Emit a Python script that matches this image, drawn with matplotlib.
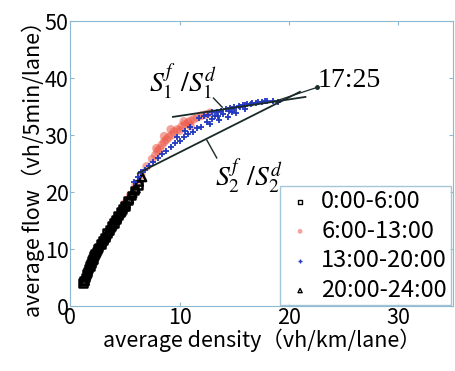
import matplotlib
matplotlib.use("Agg")
import matplotlib.pyplot as plt

plt.rcParams['font.family'] = ['Noto Sans CJK JP', 'DejaVu Sans']
plt.rcParams['mathtext.fontset'] = 'stix'

# density (vh/km/lane), flow (vh/5min/lane)
night_x = [1.2, 1.3, 1.4, 1.5, 1.6, 1.7, 1.8, 1.9, 2.0, 2.1, 2.2, 2.3, 2.4, 2.5, 2.6, 2.8, 3.0,
           3.2, 3.4, 3.6, 3.8, 4.0, 4.2, 4.4, 4.6, 4.8, 5.0, 5.3, 5.6, 5.9, 6.2]
night_y = [4.0, 4.5, 5.0, 5.6, 6.0, 6.6, 7.0, 7.5, 8.0, 8.3, 8.9, 9.2, 9.6, 10.0, 10.3, 10.9, 11.5,
           12.0, 12.8, 13.3, 14.0, 14.6, 15.2, 15.9, 16.5, 17.0, 17.6, 18.5, 19.4, 20.3, 21.2]

morning_x = [2.5, 3.0, 4.0, 5.0, 5.5, 6.0, 6.5, 7.0, 7.5, 7.8, 7.9, 8.0, 8.2, 8.4, 8.6, 8.6, 8.8,
             9.0, 9.2, 9.3, 9.5, 9.8, 10.0, 10.2, 10.4, 10.5, 10.8, 11.0, 11.0, 11.3, 11.6, 12.0,
             12.4, 12.8]
morning_y = [10.3, 11.8, 15.0, 18.0, 19.4, 21.3, 23.0, 24.5, 25.8, 26.5, 27.7, 27.2, 27.6, 28.3,
             28.8, 29.8, 29.2, 29.6, 31.0, 30.0, 30.6, 31.0, 30.8, 31.5, 32.4, 31.9, 32.2, 32.5,
             31.6, 32.8, 33.1, 33.4, 33.6, 33.9]

day_x = [5.8, 6.2, 6.5, 6.8, 7.2, 7.6, 8.0, 8.4, 8.8, 9.2, 9.6, 10.0, 10.4, 10.8, 11.2, 11.6,
         12.0, 12.5, 13.0, 13.5, 14.0, 14.5, 15.0, 15.5, 16.0, 16.5, 17.0, 17.5, 18.0, 18.5, 19.0,
         11.8, 12.2, 12.6, 13.0, 13.4, 13.8, 14.2, 14.6, 15.0, 15.4, 15.8, 16.2, 16.6, 17.2, 17.8,
         12.8, 13.6, 14.4, 15.2, 11.0, 10.5, 9.8, 14.8, 16.0, 13.2]
day_y = [21.8, 22.6, 23.5, 23.8, 24.5, 25.3, 26.0, 26.7, 27.3, 27.9, 28.6, 29.0, 29.6, 30.2, 30.6,
         31.3, 31.5, 32.3, 32.8, 33.3, 33.7, 34.2, 34.5, 35.0, 35.2, 35.5, 35.7, 35.8, 35.9, 36.0,
         35.8, 33.0, 33.4, 33.6, 34.0, 34.1, 34.3, 34.5, 34.8, 35.0, 35.1, 35.3, 35.4, 35.6, 35.8,
         36.0, 32.0, 32.6, 33.2, 33.8, 31.5, 30.8, 29.6, 34.0, 34.6, 33.3]

evening_x = [1.25, 1.35, 1.45, 1.55, 1.65, 1.75, 1.85, 1.95, 2.05, 2.15, 2.35, 2.55, 2.7, 2.9,
             3.1, 3.3, 3.5, 3.7, 3.9, 4.1, 4.3, 4.5, 4.7, 4.9, 5.1, 5.4, 5.7, 6.0, 6.3, 6.6]
evening_y = [4.3, 4.4, 5.3, 5.8, 6.3, 6.8, 7.3, 7.7, 8.1, 8.6, 9.4, 10.1, 10.7, 11.2, 11.8, 12.4,
             13.1, 13.7, 14.3, 15.0, 15.5, 16.2, 16.6, 17.4, 17.9, 18.8, 19.8, 20.6, 21.8, 22.6]

s1_x = [9.4, 21.5]
s1_y = [33.2, 36.7]
s2_x = [6.2, 21.0]
s2_y = [23.3, 37.6]
peak_x = [18.5, 22.6]
peak_y = [35.8, 38.4]

spine = '#8db8cf'
ink = '#1a2a2a'

fig = plt.figure(figsize=(4.55, 3.71), dpi=100)
ax = fig.add_axes([0.154, 0.175, 0.842, 0.768])

ax.scatter(morning_x, morning_y, s=40, marker='o', color='#ec5a4a', alpha=0.55,
           edgecolors='none', label='6:00-13:00', zorder=2)
ax.scatter(night_x, night_y, s=30, marker='s', facecolors='none', edgecolors='black',
           linewidths=1.8, label='0:00-6:00', zorder=3)
ax.scatter(evening_x, evening_y, s=30, marker='^', facecolors='none', edgecolors='black',
           linewidths=1.8, label='20:00-24:00', zorder=3)
ax.scatter(day_x, day_y, s=16, marker='+', color='#2238c0', linewidths=1.3,
           label='13:00-20:00', zorder=4)

ax.plot(s1_x, s1_y, color=ink, lw=1.3, zorder=5)
ax.plot(s2_x, s2_y, color=ink, lw=1.3, zorder=5)
ax.plot(peak_x, peak_y, color=ink, lw=0.9, zorder=5)
ax.plot(peak_x[1:], peak_y[1:], 'o', color=ink, ms=2.5, zorder=5)

ax.plot([13.1, 13.9], [36.5, 34.9], color=ink, lw=1.0)
ax.plot([13.4, 12.5], [26.0, 29.1], color=ink, lw=1.0)

ax.text(10.3, 39.3, r'$S_1^f\ /S_1^d$', fontsize=20, ha='center', va='center')
ax.text(16.4, 22.6, r'$S_2^f\ /S_2^d$', fontsize=20, ha='center', va='center')
ax.text(22.6, 39.6, '17:25', fontsize=20, ha='left', va='center', family='Liberation Serif')

ax.set_xlim(0, 35)
ax.set_ylim(0, 50)
ax.set_xticks([0, 10, 20, 30])
ax.set_yticks([0, 10, 20, 30, 40, 50])
ax.tick_params(direction='in', top=True, right=True, length=3, color=spine,
               labelsize=15.5, pad=1)
for s in ax.spines.values():
    s.set_color(spine)

ax.set_xlabel('average density（vh/km/lane）', fontsize=15.5, labelpad=-1)
ax.set_ylabel('average flow（vh/5min/lane）', fontsize=15.5, labelpad=0)

handles, labels = ax.get_legend_handles_labels()
order = [labels.index(l) for l in ['0:00-6:00', '6:00-13:00', '13:00-20:00', '20:00-24:00']]
leg = ax.legend([handles[i] for i in order], [labels[i] for i in order],
                loc='upper left', bbox_to_anchor=(0.548, 0.42), fontsize=17,
                frameon=True, fancybox=False, borderpad=0.15, labelspacing=0.28,
                handletextpad=0.2, handlelength=1.4, markerscale=0.55, borderaxespad=0)
leg.get_frame().set_edgecolor(spine)
leg.get_frame().set_linewidth(1.0)
for h in leg.legend_handles:
    h.set_linewidth(1.0)

fig.savefig('out.png', dpi=100)
